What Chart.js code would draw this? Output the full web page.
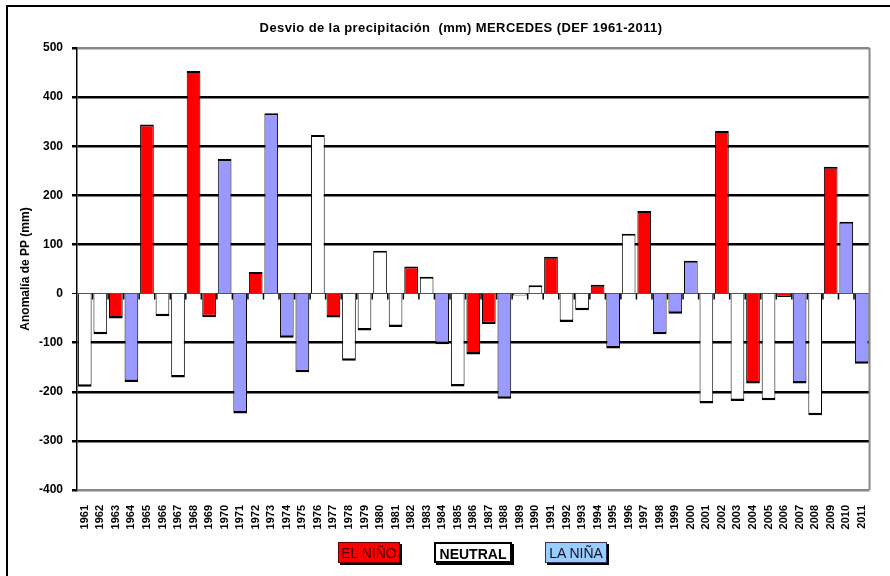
<!DOCTYPE html>
<html>
<head>
<meta charset="utf-8">
<script src="https://cdn.jsdelivr.net/npm/chart.js@4"></script>
<style>
  body { margin: 0; width: 890px; height: 576px; overflow: hidden; background: #fff; position: relative; font-family: "Liberation Sans", Arial, sans-serif; }
  #marco { position: absolute; left: 6px; top: 5px; width: 1000px; height: 1000px; border: 2px solid #000; }
  #titulo { position: absolute; top: 20px; left: 211px; width: 500px; text-align: center; font-weight: bold; font-size: 13px; letter-spacing: 0.4px; white-space: nowrap; }
  #wrap { position: absolute; left: 0; top: 0; width: 890px; height: 576px; }
  .ley { position: absolute; top: 542px; height: 21px; line-height: 21px; text-align: center; font-size: 14px; box-shadow: 2px 2px 0 #000; box-sizing: border-box; }
</style>
</head>
<body>
<div id="marco"></div>
<div id="wrap"><canvas id="grafico"></canvas></div>
<div id="titulo">Desvio de la precipitación&nbsp; (mm) MERCEDES (DEF 1961-2011)</div>
<div class="ley" style="left:338px;width:62px;background:#ff0000;border:1px solid #600;color:#400;">EL NIÑO</div>
<div class="ley" style="left:434px;width:78px;background:#fff;border:2px solid #000;font-weight:bold;">NEUTRAL</div>
<div class="ley" style="left:545px;width:62px;background:#99ccff;border:1px solid #335;color:#112;">LA NIÑA</div>
<script>
// años DEF 1961-2011
const anios = [];
for (let a = 1961; a <= 2011; a++) anios.push(String(a));

// anomalía de PP (mm)
const anomalias = [
  -190, -83, -51, -180, 344, -46, -171, 453, -48, 274,
  -244, 44, 367, -90, -160, 323, -49, -137, -75, 87,
  -68, 55, 34, -103, -189, -124, -62, -214, -4, 17,
  75, -58, -34, 18, -112, 122, 168, -83, -41, 67,
  -224, 331, -219, -183, -217, -7, -183, -248, 258, 146,
  -143
];

// fase ENSO: N = El Niño, 0 = neutral, A = La Niña
const fases = [
  '0', '0', 'N', 'A', 'N', '0', '0', 'N', 'N', 'A',
  'A', 'N', 'A', 'A', 'A', '0', 'N', '0', '0', '0',
  '0', 'N', '0', 'A', '0', 'N', 'N', 'A', '0', '0',
  'N', '0', '0', 'N', 'A', '0', 'N', 'A', 'A', 'A',
  '0', 'N', '0', 'N', '0', 'N', 'A', '0', 'N', 'A',
  'A'
];

const coloresFase = { N: '#ff0000', '0': '#ffffff', A: '#9999ff' };
const ticksY = [500, 400, 300, 200, 100, 0, -100, -200, -300, -400];

// marco gris del área de trazado y marcas en el eje de categorías (en cero)
const marcoArea = {
  id: 'marcoArea',
  afterDatasetsDraw(chart) {
    const { ctx, chartArea, scales } = chart;
    const x = scales.x, y0 = scales.y.getPixelForValue(0);
    ctx.save();
    ctx.strokeStyle = '#888';
    ctx.lineWidth = 2;
    ctx.beginPath();
    ctx.moveTo(chartArea.right, chartArea.top);
    ctx.lineTo(chartArea.right, chartArea.bottom);
    ctx.stroke();
    ctx.strokeStyle = '#000';
    ctx.lineWidth = 1.5;
    ctx.beginPath();
    for (let i = 1; i < anios.length; i++) {
      const xb = (x.getPixelForValue(i - 1) + x.getPixelForValue(i)) / 2;
      ctx.moveTo(xb, y0);
      ctx.lineTo(xb, y0 + 6);
    }
    ctx.stroke();
    ctx.restore();
  }
};

new Chart(document.getElementById('grafico'), {
  type: 'bar',
  data: {
    labels: anios,
    datasets: [{
      label: 'Anomalía de PP (mm)',
      data: anomalias,
      backgroundColor: fases.map(f => coloresFase[f]),
      borderColor: '#000',
      borderSkipped: false,
      borderWidth: ctx => {
        const v = ctx.raw;
        return v >= 0 ? { top: 2, left: 1, right: 1, bottom: 0 } : { top: 0, left: 1, right: 1, bottom: 2.5 };
      },
      barPercentage: 0.88,
      categoryPercentage: 1
    }]
  },
  options: {
    responsive: true,
    maintainAspectRatio: false,
    animation: false,
    layout: { padding: { top: 48, right: 2, left: 0, bottom: 0 } },
    plugins: {
      legend: { display: false },
      tooltip: { enabled: false }
    },
    scales: {
      x: {
        grid: { display: false, drawTicks: false },
        border: { display: false },
        afterFit: s => { s.height = 86; },
        ticks: {
          autoSkip: false,
          minRotation: 90,
          maxRotation: 90,
          padding: 15,
          color: '#000',
          font: { family: 'Liberation Sans', weight: 'bold', size: 11 }
        }
      },
      y: {
        min: -400,
        max: 500,
        afterFit: s => { s.width = 77; },
        afterBuildTicks: s => { s.ticks = ticksY.map(v => ({ value: v })); },
        border: { display: true, color: '#000', width: 1.5 },
        grid: {
          color: c => {
            const v = c.tick.value;
            if (v === 500 || v === -400) return '#888';
            if (v === 0) return '#555';
            return '#000';
          },
          lineWidth: c => (c.tick.value === 0 ? 1 : 2.5),
          tickColor: '#000',
          tickLength: 5
        },
        ticks: {
          padding: 9,
          color: '#000',
          font: { family: 'Liberation Sans', weight: 'bold', size: 12 }
        },
        title: {
          display: true,
          text: 'Anomalía de PP (mm)',
          color: '#000',
          padding: { top: 18, bottom: 0 },
          font: { family: 'Liberation Sans', weight: 'bold', size: 12 }
        }
      }
    }
  },
  plugins: [marcoArea]
});
</script>
</body>
</html>
